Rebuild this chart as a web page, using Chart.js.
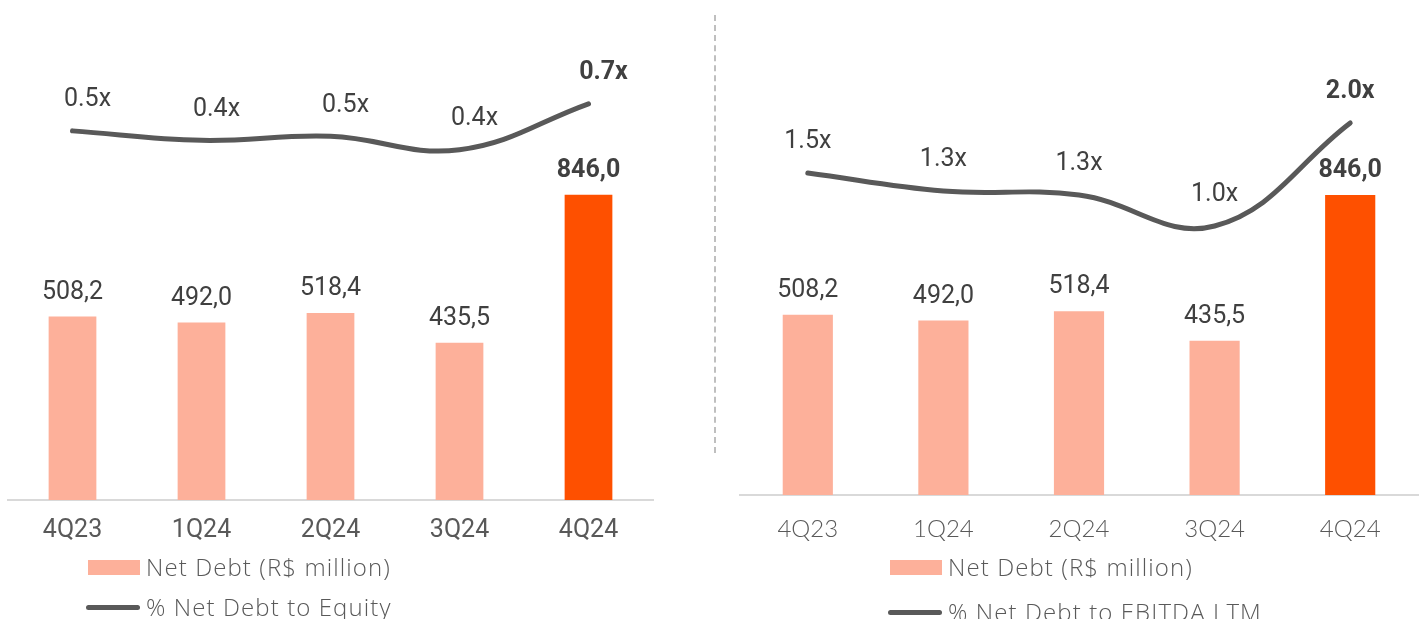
<!DOCTYPE html>
<html>
<head>
<meta charset="utf-8">
<script src="https://cdn.jsdelivr.net/npm/chart.js@4.4.1/dist/chart.umd.min.js"></script>
<style>
  body { margin: 0; background: #fff; width: 1421px; height: 619px; overflow: hidden; position: relative; }
  .box { position: absolute; top: 0; height: 619px; }
  .sep { position: absolute; left: 714px; top: 15px; height: 438px; border-left: 2px dashed #BFBFBF; }
  .leg { position: absolute; font-family: "Open Sans", Lato, sans-serif; font-weight: 300; font-size: 24px; letter-spacing: 1.1px; color: #595959; white-space: nowrap; line-height: 26px; }
  .sw-bar { position: absolute; width: 52px; height: 15px; background: #FDB09A; }
  .sw-line { position: absolute; width: 54px; height: 5px; border-radius: 3px; background: #595959; }
</style>
</head>
<body>
<div class="box" style="left:0;width:710px"><canvas id="canvas"></canvas></div>
<div class="box" style="left:720px;width:701px"><canvas id="canvas2"></canvas></div>
<div class="sep"></div>

<div class="sw-bar" style="left:88px;top:560px"></div>
<div class="leg" style="left:146px;top:554px">Net Debt (R$ million)</div>
<div class="sw-line" style="left:86px;top:605px"></div>
<div class="leg" style="left:146px;top:594px">% Net Debt to Equity</div>

<div class="sw-bar" style="left:890px;top:560px"></div>
<div class="leg" style="left:948px;top:554px">Net Debt (R$ million)</div>
<div class="sw-line" style="left:888px;top:610px"></div>
<div class="leg" style="left:948px;top:599px">% Net Debt to EBITDA LTM</div>

<script>
var quarters = ['4Q23', '1Q24', '2Q24', '3Q24', '4Q24'];
var netDebt = [508.2, 492.0, 518.4, 435.5, 846.0];
var debtToEquity = [0.50, 0.43, 0.46, 0.36, 0.70];
var debtToEbitda = [1.50, 1.32, 1.28, 0.97, 2.00];

var barLight = '#FDB09A';
var barDark = '#FE5000';
var lineGrey = '#595959';
var labelFont = '"Liberation Sans Narrow", Roboto, sans-serif';

var valueLabels = {
    id: 'valueLabels',
    afterDatasetsDraw: function (chart, args, opts) {
        var ctx = chart.ctx;
        var last = quarters.length - 1;
        ctx.save();
        ctx.textAlign = 'center';
        ctx.textBaseline = 'middle';
        ctx.fillStyle = '#404040';
        chart.data.datasets.forEach(function (ds, di) {
            var meta = chart.getDatasetMeta(di);
            meta.data.forEach(function (el, i) {
                var bold = i === last ? 'bold ' : '';
                ctx.font = bold + '25px ' + labelFont;
                if (ds.type === 'bar') {
                    ctx.fillText(ds.data[i].toFixed(1).replace('.', ','), el.x, el.y - 24);
                } else {
                    ctx.fillText(ds.data[i].toFixed(1) + 'x', el.x + opts.dx, el.y - opts.dy);
                }
            });
        });
        ctx.restore();
    }
};

function makeChart(id, lineData, lineLabel, tickFont, tickPad, pad, axisH, yMax, y2Min, y2Max, dx, dy) {
    var ctx = document.getElementById(id).getContext('2d');
    return new Chart(ctx, {
        data: {
            labels: quarters,
            datasets: [{
                type: 'line',
                label: lineLabel,
                data: lineData,
                yAxisID: 'y2',
                borderColor: lineGrey,
                borderWidth: 5,
                borderCapStyle: 'round',
                tension: 0.4,
                pointRadius: 0,
                order: 0
            }, {
                type: 'bar',
                label: 'Net Debt (R$ million)',
                data: netDebt,
                backgroundColor: netDebt.map(function (v, i) { return i === netDebt.length - 1 ? barDark : barLight; }),
                barPercentage: 0.37,
                categoryPercentage: 1,
                order: 1
            }]
        },
        options: {
            responsive: true,
            maintainAspectRatio: false,
            animation: false,
            layout: { padding: pad },
            plugins: {
                legend: { display: false },
                tooltip: { enabled: false },
                valueLabels: { dx: dx, dy: dy }
            },
            scales: {
                x: {
                    grid: { display: false, drawTicks: false },
                    border: { color: '#D9D9D9', width: 2 },
                    ticks: { color: '#595959', font: tickFont, padding: tickPad },
                    afterFit: function (scale) { scale.height = axisH; }
                },
                y: { display: false, min: 0, max: yMax },
                y2: { display: false, min: y2Min, max: y2Max }
            }
        },
        plugins: [valueLabels]
    });
}

window.onload = function () {
    window.EquityChart = makeChart('canvas', debtToEquity, '% Net Debt to Equity',
        { family: 'Roboto, sans-serif', size: 25 }, 16,
        { left: 8, right: 57, top: 20, bottom: 0 }, 119, 1330, -2.23, 1.32, 15, 31);
    window.EbitdaChart = makeChart('canvas2', debtToEbitda, '% Net Debt to EBITDA LTM',
        { family: 'Lato, sans-serif', size: 24, weight: 300 }, 20,
        { left: 20, right: 3, top: 20, bottom: 0 }, 124, 1340, -1.72, 3.03, 0, 31);
};
</script>
</body>
</html>
